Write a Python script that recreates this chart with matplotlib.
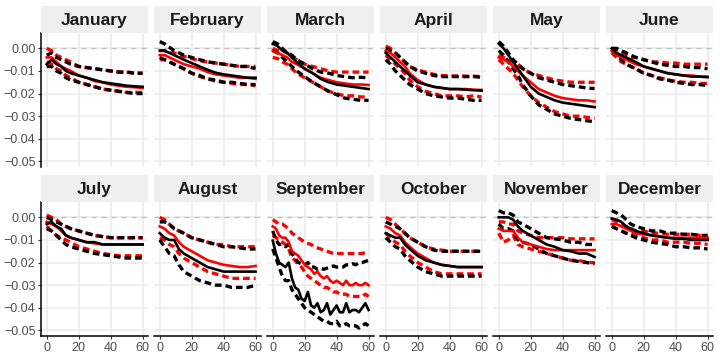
import matplotlib
matplotlib.use("Agg")
import matplotlib.pyplot as plt
from matplotlib.patches import Rectangle

plt.rcParams['font.family'] = ['Liberation Sans', 'DejaVu Sans']

months = ["January", "February", "March", "April", "May", "June",
          "July", "August", "September", "October", "November", "December"]

x_grid = [0, 3, 6, 9, 12, 15, 20, 25, 30, 35, 40, 45, 50, 55, 60]
sep_x = list(range(0, 61, 2))

jan_bk = [-0.007, -0.005, -0.007, -0.008, -0.010, -0.011, -0.012, -0.013, -0.014, -0.015, -0.0155, -0.016, -0.0165, -0.0168, -0.017]
jan_bk_hi = [-0.003, -0.002, -0.004, -0.005, -0.006, -0.007, -0.008, -0.0085, -0.009, -0.0095, -0.010, -0.0105, -0.0105, -0.011, -0.011]
jan_bk_lo = [-0.008, -0.008, -0.010, -0.011, -0.013, -0.014, -0.015, -0.016, -0.017, -0.018, -0.0185, -0.019, -0.0195, -0.020, -0.020]
jan_rd = [-0.004, -0.004, -0.006, -0.008, -0.009, -0.010, -0.012, -0.013, -0.0145, -0.015, -0.016, -0.0165, -0.017, -0.0172, -0.0175]
jan_rd_hi = [0.000, -0.001, -0.003, -0.004, -0.005, -0.006, -0.008, -0.0085, -0.009, -0.0095, -0.010, -0.0105, -0.0105, -0.011, -0.011]
jan_rd_lo = [-0.006, -0.007, -0.009, -0.010, -0.012, -0.013, -0.015, -0.016, -0.017, -0.018, -0.0185, -0.019, -0.0195, -0.0195, -0.0195]

feb_bk = [-0.001, -0.001, -0.002, -0.003, -0.004, -0.005, -0.0065, -0.008, -0.0095, -0.0108, -0.0115, -0.012, -0.0125, -0.013, -0.013]
feb_bk_hi = [0.003, 0.002, 0.0005, -0.001, -0.002, -0.003, -0.004, -0.005, -0.006, -0.0065, -0.007, -0.0075, -0.008, -0.008, -0.009]
feb_bk_lo = [-0.004, -0.005, -0.006, -0.007, -0.008, -0.009, -0.011, -0.012, -0.0135, -0.014, -0.015, -0.015, -0.0155, -0.016, -0.016]
feb_rd = [-0.003, -0.003, -0.004, -0.005, -0.006, -0.007, -0.008, -0.009, -0.0105, -0.0115, -0.012, -0.0125, -0.013, -0.013, -0.0135]
feb_rd_hi = [-0.001, -0.001, -0.002, -0.002, -0.003, -0.0035, -0.0045, -0.0055, -0.006, -0.0065, -0.007, -0.0075, -0.008, -0.008, -0.008]
feb_rd_lo = [-0.005, -0.005, -0.006, -0.007, -0.008, -0.009, -0.011, -0.0125, -0.0135, -0.0145, -0.015, -0.0155, -0.016, -0.016, -0.0165]

mar_bk = [0.002, 0.001, -0.001, -0.002, -0.004, -0.006, -0.009, -0.011, -0.0135, -0.015, -0.016, -0.0165, -0.017, -0.0175, -0.018]
mar_bk_hi = [0.003, 0.002, 0.000, -0.002, -0.003, -0.005, -0.007, -0.009, -0.0105, -0.011, -0.012, -0.0125, -0.013, -0.0128, -0.013]
mar_bk_lo = [-0.001, -0.002, -0.004, -0.006, -0.008, -0.010, -0.0125, -0.015, -0.017, -0.019, -0.0205, -0.022, -0.0225, -0.023, -0.023]
mar_rd = [-0.001, -0.002, -0.003, -0.004, -0.006, -0.007, -0.009, -0.011, -0.013, -0.014, -0.015, -0.0155, -0.016, -0.016, -0.0162]
mar_rd_hi = [0.000, -0.001, -0.001, -0.002, -0.004, -0.005, -0.007, -0.008, -0.009, -0.010, -0.0105, -0.0105, -0.0105, -0.0105, -0.0105]
mar_rd_lo = [-0.004, -0.0045, -0.006, -0.007, -0.009, -0.011, -0.013, -0.015, -0.017, -0.019, -0.020, -0.021, -0.021, -0.0215, -0.0215]

apr_bk = [-0.002, -0.004, -0.006, -0.008, -0.010, -0.012, -0.015, -0.016, -0.017, -0.0175, -0.018, -0.018, -0.0183, -0.0185, -0.0187]
apr_bk_hi = [0.000, -0.001, -0.002, -0.004, -0.006, -0.008, -0.010, -0.011, -0.012, -0.0125, -0.0125, -0.0125, -0.0125, -0.0125, -0.0128]
apr_bk_lo = [-0.005, -0.007, -0.010, -0.012, -0.014, -0.016, -0.018, -0.020, -0.021, -0.0215, -0.022, -0.022, -0.0225, -0.023, -0.023]
apr_rd = [-0.001, -0.002, -0.004, -0.006, -0.008, -0.011, -0.014, -0.016, -0.017, -0.0175, -0.018, -0.018, -0.018, -0.0183, -0.0184]
apr_rd_hi = [0.001, 0.000, -0.002, -0.004, -0.006, -0.008, -0.0095, -0.0105, -0.0115, -0.012, -0.0122, -0.0122, -0.0123, -0.0123, -0.0125]
apr_rd_lo = [-0.003, -0.005, -0.007, -0.009, -0.011, -0.014, -0.017, -0.019, -0.020, -0.021, -0.021, -0.021, -0.0215, -0.021, -0.0215]

may_bk = [0.002, 0.000, -0.003, -0.006, -0.009, -0.012, -0.017, -0.020, -0.0215, -0.023, -0.024, -0.0245, -0.025, -0.0255, -0.026]
may_bk_hi = [0.003, 0.001, -0.002, -0.005, -0.007, -0.009, -0.011, -0.013, -0.014, -0.015, -0.016, -0.0165, -0.017, -0.0175, -0.0178]
may_bk_lo = [-0.001, -0.003, -0.006, -0.009, -0.012, -0.016, -0.021, -0.025, -0.027, -0.029, -0.030, -0.031, -0.0315, -0.032, -0.0325]
may_rd = [-0.004, -0.005, -0.006, -0.008, -0.010, -0.012, -0.015, -0.018, -0.0195, -0.021, -0.022, -0.0225, -0.023, -0.023, -0.0235]
may_rd_hi = [-0.003, -0.004, -0.005, -0.006, -0.007, -0.009, -0.011, -0.012, -0.013, -0.014, -0.0145, -0.015, -0.015, -0.015, -0.015]
may_rd_lo = [-0.005, -0.007, -0.009, -0.011, -0.014, -0.017, -0.021, -0.024, -0.026, -0.028, -0.029, -0.030, -0.030, -0.0305, -0.031]

jun_bk = [0.000, -0.002, -0.003, -0.004, -0.005, -0.006, -0.008, -0.009, -0.010, -0.011, -0.0115, -0.012, -0.0125, -0.0125, -0.0128]
jun_bk_hi = [0.000, 0.000, -0.001, -0.002, -0.003, -0.004, -0.005, -0.006, -0.007, -0.0075, -0.008, -0.008, -0.0085, -0.0085, -0.009]
jun_bk_lo = [-0.001, -0.003, -0.005, -0.007, -0.008, -0.009, -0.011, -0.012, -0.0135, -0.014, -0.015, -0.0155, -0.016, -0.016, -0.0165]
jun_rd = [-0.001, -0.003, -0.004, -0.005, -0.006, -0.007, -0.008, -0.009, -0.010, -0.011, -0.0115, -0.012, -0.012, -0.0125, -0.0125]
jun_rd_hi = [0.000, -0.001, -0.002, -0.003, -0.004, -0.004, -0.005, -0.006, -0.006, -0.0065, -0.0065, -0.007, -0.007, -0.007, -0.007]
jun_rd_lo = [-0.002, -0.004, -0.006, -0.007, -0.008, -0.009, -0.011, -0.012, -0.013, -0.014, -0.0145, -0.015, -0.015, -0.0155, -0.0155]

jul_bk = [-0.003, -0.002, -0.004, -0.005, -0.008, -0.009, -0.010, -0.011, -0.011, -0.012, -0.012, -0.012, -0.012, -0.012, -0.012]
jul_bk_hi = [0.000, -0.001, -0.002, -0.003, -0.004, -0.005, -0.006, -0.007, -0.008, -0.0085, -0.009, -0.009, -0.009, -0.009, -0.009]
jul_bk_lo = [-0.005, -0.006, -0.008, -0.010, -0.012, -0.013, -0.014, -0.015, -0.016, -0.0165, -0.017, -0.0175, -0.018, -0.018, -0.018]
jul_rd = [-0.002, -0.003, -0.004, -0.006, -0.008, -0.009, -0.010, -0.011, -0.0115, -0.012, -0.012, -0.012, -0.012, -0.012, -0.012]
jul_rd_hi = [0.001, 0.000, -0.001, -0.003, -0.004, -0.005, -0.006, -0.007, -0.008, -0.0085, -0.009, -0.009, -0.009, -0.009, -0.009]
jul_rd_lo = [-0.004, -0.006, -0.008, -0.009, -0.010, -0.011, -0.013, -0.014, -0.015, -0.016, -0.0165, -0.017, -0.017, -0.017, -0.017]

aug_bk = [-0.007, -0.009, -0.010, -0.010, -0.014, -0.016, -0.018, -0.020, -0.022, -0.023, -0.024, -0.024, -0.024, -0.024, -0.024]
aug_bk_hi = [-0.002, -0.002, -0.003, -0.005, -0.006, -0.007, -0.009, -0.010, -0.011, -0.012, -0.013, -0.013, -0.0135, -0.014, -0.014]
aug_bk_lo = [-0.010, -0.013, -0.016, -0.017, -0.021, -0.024, -0.026, -0.028, -0.029, -0.030, -0.030, -0.031, -0.031, -0.031, -0.030]
aug_rd = [-0.004, -0.005, -0.007, -0.008, -0.011, -0.013, -0.015, -0.017, -0.019, -0.020, -0.021, -0.0215, -0.022, -0.022, -0.0215]
aug_rd_hi = [0.000, -0.001, -0.003, -0.005, -0.006, -0.007, -0.009, -0.010, -0.011, -0.012, -0.012, -0.013, -0.013, -0.013, -0.013]
aug_rd_lo = [-0.009, -0.010, -0.012, -0.013, -0.016, -0.018, -0.020, -0.022, -0.024, -0.025, -0.026, -0.027, -0.027, -0.027, -0.027]

sep_bk = [-0.0103, -0.016, -0.020, -0.021, -0.022, -0.020, -0.027, -0.031, -0.032, -0.036, -0.037, -0.033, -0.039, -0.040, -0.038, -0.042,
          -0.041, -0.038, -0.043, -0.041, -0.039, -0.042, -0.042, -0.038, -0.042, -0.041, -0.041, -0.042, -0.040, -0.038, -0.041]
sep_bk_hi = [-0.006, -0.010, -0.012, -0.012, -0.013, -0.012, -0.016, -0.018, -0.020, -0.0205, -0.021, -0.020, -0.022, -0.022, -0.023, -0.0225,
             -0.023, -0.0225, -0.022, -0.0215, -0.022, -0.022, -0.022, -0.021, -0.021, -0.0205, -0.021, -0.020, -0.020, -0.0195, -0.019]
sep_bk_lo = [-0.014, -0.018, -0.022, -0.026, -0.028, -0.028, -0.032, -0.034, -0.036, -0.038, -0.040, -0.041, -0.042, -0.043, -0.044, -0.045,
             -0.046, -0.046, -0.047, -0.047, -0.046, -0.048, -0.048, -0.047, -0.048, -0.048, -0.048, -0.049, -0.048, -0.047, -0.048]
sep_rd = [-0.004, -0.005, -0.008, -0.009, -0.009, -0.011, -0.015, -0.016, -0.017, -0.019, -0.021, -0.022, -0.023, -0.025, -0.024, -0.026,
          -0.027, -0.026, -0.028, -0.029, -0.028, -0.029, -0.030, -0.028, -0.030, -0.030, -0.029, -0.030, -0.030, -0.029, -0.030]
sep_rd_hi = [-0.001, -0.002, -0.003, -0.003, -0.004, -0.005, -0.007, -0.008, -0.009, -0.010, -0.011, -0.0115, -0.012, -0.013, -0.0135, -0.014,
             -0.0145, -0.015, -0.0155, -0.016, -0.016, -0.016, -0.016, -0.016, -0.016, -0.016, -0.016, -0.016, -0.016, -0.0155, -0.015]
sep_rd_lo = [-0.008, -0.009, -0.010, -0.011, -0.012, -0.014, -0.018, -0.019, -0.021, -0.022, -0.024, -0.026, -0.027, -0.028, -0.029, -0.030,
             -0.031, -0.031, -0.032, -0.033, -0.033, -0.034, -0.034, -0.034, -0.035, -0.035, -0.035, -0.035, -0.035, -0.034, -0.035]

oct_bk = [-0.007, -0.008, -0.009, -0.009, -0.012, -0.014, -0.017, -0.019, -0.020, -0.021, -0.0215, -0.022, -0.022, -0.022, -0.022]
oct_bk_hi = [-0.002, -0.003, -0.004, -0.005, -0.007, -0.009, -0.011, -0.013, -0.0145, -0.015, -0.015, -0.015, -0.015, -0.015, -0.015]
oct_bk_lo = [-0.009, -0.011, -0.013, -0.014, -0.017, -0.019, -0.022, -0.024, -0.025, -0.026, -0.026, -0.026, -0.026, -0.026, -0.026]
oct_rd = [-0.004, -0.005, -0.007, -0.008, -0.011, -0.013, -0.016, -0.018, -0.020, -0.021, -0.0215, -0.022, -0.022, -0.022, -0.022]
oct_rd_hi = [0.000, -0.001, -0.003, -0.005, -0.007, -0.009, -0.011, -0.013, -0.014, -0.0145, -0.015, -0.015, -0.015, -0.015, -0.015]
oct_rd_lo = [-0.007, -0.009, -0.011, -0.012, -0.015, -0.017, -0.020, -0.022, -0.024, -0.025, -0.025, -0.025, -0.025, -0.025, -0.025]

nov_bk = [0.000, 0.000, 0.000, -0.001, -0.004, -0.006, -0.008, -0.010, -0.012, -0.013, -0.0145, -0.015, -0.016, -0.016, -0.0175]
nov_bk_hi = [0.003, 0.002, 0.002, 0.001, -0.002, -0.003, -0.005, -0.007, -0.009, -0.0095, -0.010, -0.011, -0.011, -0.012, -0.012]
nov_bk_lo = [-0.003, -0.005, -0.005, -0.006, -0.010, -0.011, -0.012, -0.014, -0.016, -0.017, -0.018, -0.019, -0.0195, -0.020, -0.0205]
nov_rd = [-0.005, -0.006, -0.006, -0.006, -0.009, -0.011, -0.012, -0.013, -0.014, -0.0145, -0.0145, -0.0145, -0.0145, -0.0145, -0.0145]
nov_rd_hi = [-0.002, -0.002, -0.003, -0.003, -0.006, -0.007, -0.008, -0.009, -0.009, -0.009, -0.009, -0.0095, -0.0095, -0.0095, -0.0095]
nov_rd_lo = [-0.007, -0.011, -0.010, -0.008, -0.012, -0.013, -0.014, -0.015, -0.016, -0.017, -0.018, -0.019, -0.019, -0.020, -0.020]

dec_bk = [-0.0005, -0.001, -0.002, -0.004, -0.005, -0.006, -0.007, -0.008, -0.0085, -0.009, -0.0095, -0.0095, -0.010, -0.010, -0.010]
dec_bk_hi = [0.003, 0.002, 0.001, -0.001, -0.003, -0.004, -0.005, -0.006, -0.006, -0.007, -0.007, -0.0075, -0.0075, -0.008, -0.008]
dec_bk_lo = [-0.004, -0.005, -0.006, -0.007, -0.008, -0.009, -0.010, -0.011, -0.0115, -0.012, -0.013, -0.013, -0.0135, -0.0135, -0.014]
dec_rd = [-0.003, -0.003, -0.004, -0.005, -0.006, -0.007, -0.0075, -0.008, -0.0085, -0.009, -0.009, -0.009, -0.009, -0.009, -0.009]
dec_rd_hi = [-0.001, -0.002, -0.003, -0.004, -0.005, -0.006, -0.006, -0.007, -0.007, -0.0075, -0.0075, -0.0075, -0.0075, -0.008, -0.008]
dec_rd_lo = [-0.004, -0.005, -0.006, -0.007, -0.007, -0.008, -0.009, -0.010, -0.010, -0.011, -0.011, -0.011, -0.0115, -0.0115, -0.012]

y_ticks = [0.00, -0.01, -0.02, -0.03, -0.04, -0.05]
y_tick_labels = ["0.00", "\u22120.01", "\u22120.02", "\u22120.03", "\u22120.04", "\u22120.05"]
x_ticks = [0, 20, 40, 60]
x_tick_labels = ["0", "20", "40", "60"]

panels = [
    (x_grid, jan_bk, jan_bk_hi, jan_bk_lo, jan_rd, jan_rd_hi, jan_rd_lo),
    (x_grid, feb_bk, feb_bk_hi, feb_bk_lo, feb_rd, feb_rd_hi, feb_rd_lo),
    (x_grid, mar_bk, mar_bk_hi, mar_bk_lo, mar_rd, mar_rd_hi, mar_rd_lo),
    (x_grid, apr_bk, apr_bk_hi, apr_bk_lo, apr_rd, apr_rd_hi, apr_rd_lo),
    (x_grid, may_bk, may_bk_hi, may_bk_lo, may_rd, may_rd_hi, may_rd_lo),
    (x_grid, jun_bk, jun_bk_hi, jun_bk_lo, jun_rd, jun_rd_hi, jun_rd_lo),
    (x_grid, jul_bk, jul_bk_hi, jul_bk_lo, jul_rd, jul_rd_hi, jul_rd_lo),
    (x_grid, aug_bk, aug_bk_hi, aug_bk_lo, aug_rd, aug_rd_hi, aug_rd_lo),
    (sep_x, sep_bk, sep_bk_hi, sep_bk_lo, sep_rd, sep_rd_hi, sep_rd_lo),
    (x_grid, oct_bk, oct_bk_hi, oct_bk_lo, oct_rd, oct_rd_hi, oct_rd_lo),
    (x_grid, nov_bk, nov_bk_hi, nov_bk_lo, nov_rd, nov_rd_hi, nov_rd_lo),
    (x_grid, dec_bk, dec_bk_hi, dec_bk_lo, dec_rd, dec_rd_hi, dec_rd_lo),
]

W, H = 720, 360
fig = plt.figure(figsize=(W / 100, H / 100), dpi=100)
fig.patch.set_facecolor("white")

panel_w = 107
col_left = [41 + i * 113 for i in range(6)]
row_top = [33, 202]
panel_h = 134
strip_h = 27

dash = (0, (2.0, 1.2))
grid_c = "#EBEBEB"

for k, (xs, bk, bk_hi, bk_lo, rd, rd_hi, rd_lo) in enumerate(panels):
    r, c = divmod(k, 6)
    left = col_left[c] / W
    bottom = (H - row_top[r] - panel_h) / H
    ax = fig.add_axes([left, bottom, panel_w / W, panel_h / H])
    ax.set_xlim(-3.6, 63.4)
    ax.set_ylim(-0.0525, 0.0068)
    ax.set_facecolor("white")
    for yv in y_ticks:
        ax.axhline(yv, color=grid_c, lw=1.1, zorder=0)
    for xv in x_ticks:
        ax.axvline(xv, color=grid_c, lw=1.1, zorder=0)
    ax.axhline(0, color="#BDBDBD", lw=0.9, ls=(0, (4, 4)), zorder=1)

    ax.plot(xs, rd_hi, color="red", lw=2.4, ls=dash, zorder=2)
    ax.plot(xs, rd_lo, color="red", lw=2.4, ls=dash, zorder=2)
    ax.plot(xs, bk_hi, color="black", lw=2.4, ls=dash, zorder=3)
    ax.plot(xs, bk_lo, color="black", lw=2.4, ls=dash, zorder=3)
    ax.plot(xs, rd, color="red", lw=1.9, zorder=4)
    ax.plot(xs, bk, color="black", lw=1.9, zorder=5)

    for s in ax.spines.values():
        s.set_visible(False)
    ax.set_yticks(y_ticks)
    ax.set_xticks(x_ticks)
    if c == 0:
        ax.spines["left"].set_visible(True)
        ax.spines["left"].set_color("black")
        ax.spines["left"].set_linewidth(1.1)
        ax.set_yticklabels(y_tick_labels)
        ax.tick_params(axis="y", length=2.5, width=0.8, color="#333333",
                       labelsize=9, labelcolor="#4D4D4D", pad=1.5)
    else:
        ax.tick_params(axis="y", length=0, labelleft=False)
    if r == 1:
        ax.spines["bottom"].set_visible(True)
        ax.spines["bottom"].set_color("black")
        ax.spines["bottom"].set_linewidth(1.1)
        ax.set_xticklabels(x_tick_labels)
        ax.tick_params(axis="x", length=2.5, width=0.8, color="#333333",
                       labelsize=9, labelcolor="#4D4D4D", pad=1.5)
    else:
        ax.tick_params(axis="x", length=0, labelbottom=False)

    # strip
    sax = fig.add_axes([left, (H - row_top[r]) / H, panel_w / W, strip_h / H])
    sax.set_xlim(0, 1)
    sax.set_ylim(0, 1)
    sax.add_patch(Rectangle((0, 0), 1, 1, facecolor="#EFEFEF", edgecolor="none"))
    sax.axis("off")
    sax.text(0.5, 0.47, months[k], ha="center", va="center", fontsize=12.5,
             fontweight="bold", color="#1A1A1A")

fig.savefig("out.png", dpi=100, facecolor="white")
